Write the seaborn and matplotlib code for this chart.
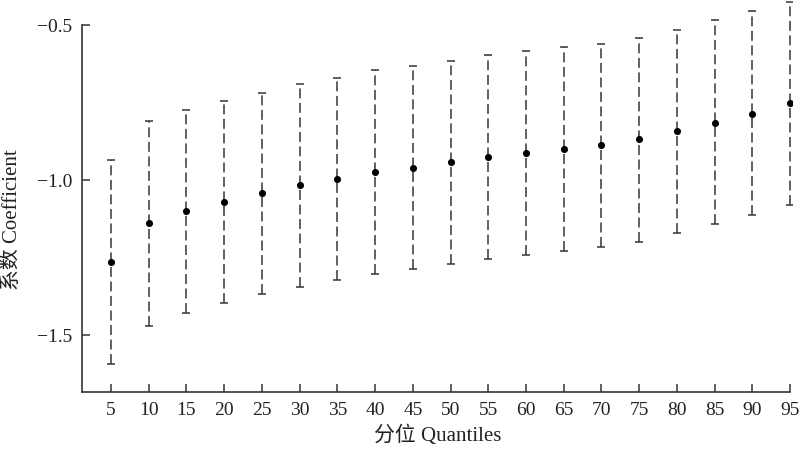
import matplotlib
matplotlib.use('Agg')
import matplotlib.pyplot as plt
import seaborn as sns
import pandas as pd
import numpy as np

quantiles = [5, 10, 15, 20, 25, 30, 35, 40, 45, 50, 55, 60, 65, 70, 75, 80, 85, 90, 95]
coef = [-1.264, -1.138, -1.100, -1.071, -1.042, -1.016, -0.997, -0.974, -0.961, -0.942,
        -0.926, -0.913, -0.900, -0.887, -0.868, -0.842, -0.814, -0.785, -0.752]
upper = [-0.936, -0.810, -0.772, -0.743, -0.717, -0.691, -0.669, -0.646, -0.633, -0.614,
         -0.595, -0.582, -0.569, -0.559, -0.540, -0.514, -0.482, -0.453, -0.424]
lower = [-1.592, -1.469, -1.428, -1.396, -1.367, -1.344, -1.322, -1.302, -1.286, -1.270,
         -1.254, -1.241, -1.228, -1.215, -1.199, -1.170, -1.141, -1.113, -1.080]

df = pd.DataFrame({'q': quantiles, 'coef': coef, 'upper': upper, 'lower': lower})

sns.set_style('white')
fonts = ['Liberation Serif', 'Noto Sans CJK SC', 'DejaVu Sans']
plt.rcParams['font.family'] = fonts
edge = '#3a3333'

fig = plt.figure(figsize=(8, 4.51), dpi=100)
ax = fig.add_axes([0.1025, 0.131, 0.888, 0.868])

yerr = np.vstack([df['coef'] - df['lower'], df['upper'] - df['coef']])
eb = ax.errorbar(df['q'], df['coef'], yerr=yerr, fmt='none', ecolor=edge,
                 elinewidth=1.1, capsize=3, capthick=1.1)
eb[2][0].set_linestyle((0, (6.5, 3)))
sns.scatterplot(data=df, x='q', y='coef', color='black', s=26, edgecolor='black',
                linewidth=0, ax=ax, zorder=3)

ax.set_xlim(1.16, 95.3)
ax.set_ylim(-1.683, -0.42)
ax.set_xticks(quantiles)
ax.set_yticks([-1.5, -1.0, -0.5])
ax.set_yticklabels(['\u22121.5', '\u22121.0', '\u22120.5'])
ax.spines['top'].set_visible(False)
ax.spines['right'].set_visible(False)
ax.spines['left'].set_bounds(-1.683, -0.5)
ax.spines['bottom'].set_bounds(1.16, 95)
for s in ['left', 'bottom']:
    ax.spines[s].set_color(edge)
    ax.spines[s].set_linewidth(1.2)
ax.tick_params(bottom=True, left=True, direction='in', length=6, width=1.1,
               color=edge, labelsize=14, labelcolor='#222222', pad=7)
ax.set_xlabel('分位 Quantiles', fontsize=15, family=fonts, color='#222222', labelpad=5)
ax.set_ylabel('系数 Coefficient', fontsize=15, family=fonts, color='#222222')
ax.yaxis.set_label_coords(-0.085, 0.44)

plt.savefig('out.png')
plt.close(fig)
